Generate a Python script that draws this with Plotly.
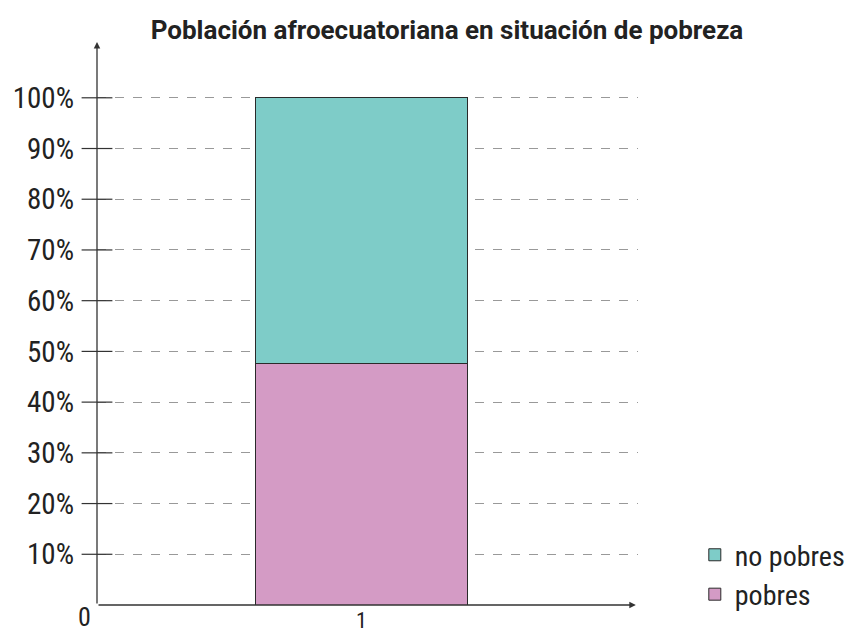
import plotly.graph_objects as go

categoria = [1]
pobres = [47.6]
no_pobres = [52.4]
ticks_y = [10, 20, 30, 40, 50, 60, 70, 80, 90, 100]
ticks_y_text = [f"{v}%" for v in ticks_y]

FONT = "Liberation Sans Narrow, Roboto Condensed, Roboto, sans-serif"
X_MAX = 2.045
Y_MAX = 111

fig = go.Figure()
fig.add_trace(go.Bar(x=categoria, y=pobres, name="pobres", width=0.8,
                     marker=dict(color="#d49bc5", line=dict(color="#2a2a2a", width=1))))
fig.add_trace(go.Bar(x=categoria, y=no_pobres, name="no pobres", width=0.8,
                     marker=dict(color="#7eccc8", line=dict(color="#2a2a2a", width=1))))

# tick marks crossing the y axis
fig.add_trace(go.Scatter(x=[0] * len(ticks_y), y=ticks_y, mode="markers",
                         marker=dict(symbol="line-ew", size=22, line=dict(color="#333", width=1.2)),
                         showlegend=False, hoverinfo="skip", cliponaxis=False))

# axes with arrows
fig.add_annotation(x=0, y=Y_MAX, ax=0, ay=0, xref="x", yref="y", axref="x", ayref="y",
                   showarrow=True, arrowhead=2, arrowsize=1, arrowwidth=1.3, arrowcolor="#333", text="")
fig.add_annotation(x=X_MAX * 0.996, y=0, ax=0, ay=0, xref="x", yref="y", axref="x", ayref="y",
                   showarrow=True, arrowhead=2, arrowsize=1, arrowwidth=1.3, arrowcolor="#333", text="")
fig.add_annotation(x=0, y=0, xref="x", yref="y", text="0", showarrow=False,
                   xanchor="right", yanchor="top", xshift=-4, yshift=5,
                   font=dict(family=FONT, size=26, color="#222"))

# page body adds 8px, so the figure is 8px smaller than the window
fig.update_layout(
    width=854, height=625,
    margin=dict(l=89, r=220, t=34, b=28),
    paper_bgcolor="white", plot_bgcolor="white",
    barmode="stack",
    title=dict(text="<b>Población afroecuatoriana en situación de pobreza</b>",
               x=439 / 854, xanchor="center", y=1 - 22 / 625, yanchor="middle",
               font=dict(family="Roboto, sans-serif", size=26, color="#222")),
    font=dict(family=FONT, color="#222"),
    legend=dict(x=1.105, y=-0.025, xanchor="left", yanchor="bottom", traceorder="reversed",
                font=dict(family=FONT, size=28, color="#222"), itemwidth=30,
                tracegroupgap=0),
    showlegend=True,
)
fig.update_xaxes(range=[0, X_MAX], tickvals=categoria, ticktext=["1"], showgrid=False,
                 zeroline=False, showline=False, ticks="", tickfont=dict(size=22),
                 ticklabelstandoff=0, automargin=False)
fig.update_yaxes(range=[0, Y_MAX], tickvals=ticks_y, ticktext=ticks_y_text, showgrid=True,
                 gridcolor="#999", griddash="dash", gridwidth=1, zeroline=False, showline=False,
                 ticks="", ticklabelstandoff=22, tickfont=dict(size=29), automargin=False)

fig.write_html("out.html")
